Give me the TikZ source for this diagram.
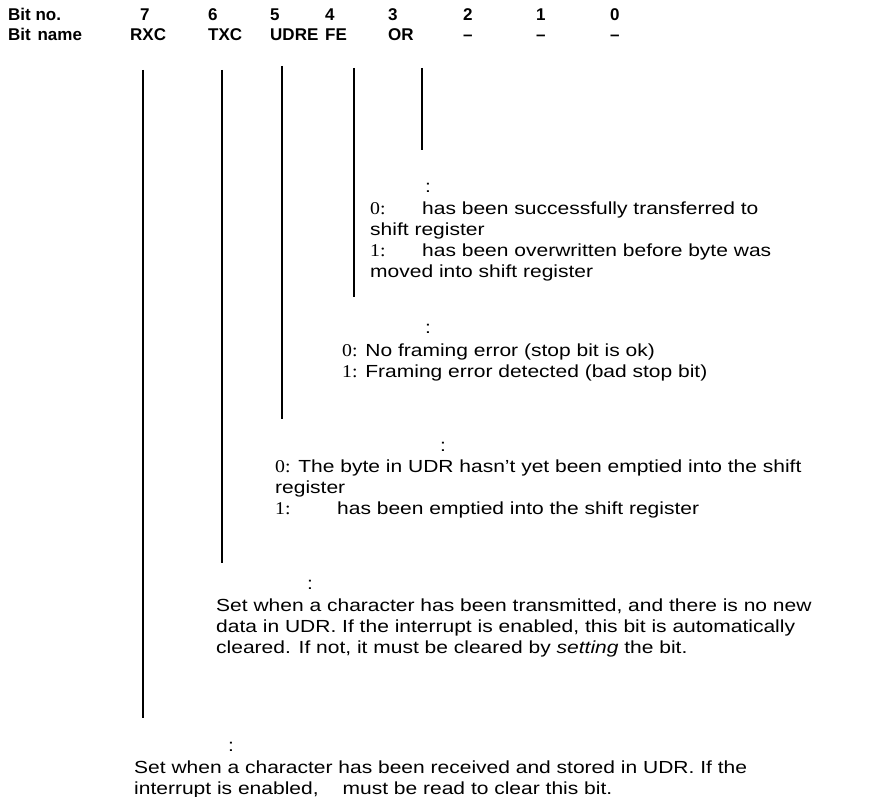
\documentclass[tikz,border=0pt]{standalone}
\usepackage{fontspec}
\setmainfont{Liberation Sans}[FakeStretch=1.2]
\newfontfamily\hdrfont{Liberation Sans}
\newfontfamily\digitfont{Liberation Serif}[FakeStretch=1.1]
\newcommand{\dg}[1]{{\digitfont\fontsize{18}{21}\selectfont #1}}
\begin{document}
\begin{tikzpicture}[x=1pt,y=-1pt,
  txt/.style={anchor=base west,inner sep=0pt,font=\fontsize{17.5}{21}\selectfont},
  hdr/.style={anchor=base west,inner sep=0pt,font=\hdrfont\bfseries\fontsize{17}{20}\selectfont},
  vline/.style={line width=1.5pt}]
\useasboundingbox (0,0) rectangle (872,797);
% header
\node[hdr] (bitno) at (8,21) {Bit no.};
\node[hdr] (n7) at (140,21) {7};
\node[hdr] (n6) at (208,21) {6};
\node[hdr] (n5) at (270,21) {5};
\node[hdr] (n4) at (325,21) {4};
\node[hdr] (n3) at (388,21) {3};
\node[hdr] (n2) at (463,21) {2};
\node[hdr] (n1) at (536,21) {1};
\node[hdr] (n0) at (610,21) {0};
\node[hdr] (bitname) at (8,41) {Bit\hspace{2pt} name};
\node[hdr] (rxc) at (130,41) {RXC};
\node[hdr] (txc) at (208,41) {TXC};
\node[hdr] (udre) at (270,41) {UDRE};
\node[hdr] (fe) at (325,41) {FE};
\node[hdr] (or) at (388,41) {OR};
\node[hdr] (d2) at (463,41) {\textendash};
\node[hdr] (d1) at (536,41) {\textendash};
\node[hdr] (d0) at (610,41) {\textendash};
% connectors
\coordinate (rxcT) at (143,70);  \coordinate (rxcB) at (143,718);
\coordinate (txcT) at (222,70);  \coordinate (txcB) at (222,563);
\coordinate (udreT) at (282,66); \coordinate (udreB) at (282,419);
\coordinate (feT) at (354,68);   \coordinate (feB) at (354,297);
\coordinate (orT) at (422,68);   \coordinate (orB) at (422,150);
\draw[vline] (rxcT) -- (rxcB);
\draw[vline] (txcT) -- (txcB);
\draw[vline] (udreT) -- (udreB);
\draw[vline] (feT) -- (feB);
\draw[vline] (orT) -- (orB);
% OR block
\node[txt] (orc) at (425,192) {:};
\node[txt] (or1) at (370,214) {\dg{0:}};
\node[txt] (or1b) at (422,214) {has been successfully transferred to};
\node[txt] (or2) at (370,235) {shift register};
\node[txt] (or3) at (370,256) {\dg{1:}};
\node[txt] (or3b) at (422,256) {has been overwritten before byte was};
\node[txt] (or4) at (370,277) {moved into shift register};
% FE block
\node[txt] (fec) at (425,333) {:};
\node[txt] (fe1) at (342,356) {\dg{0:} No framing error (stop bit is ok)};
\node[txt] (fe2) at (342,377) {\dg{1:} Framing error detected (bad stop bit)};
% UDRE block
\node[txt] (udc) at (440,451) {:};
\node[txt] (ud1) at (275,472) {\dg{0:} The byte in UDR hasn't yet been emptied into the shift};
\node[txt] (ud2) at (275,493) {register};
\node[txt] (ud3) at (275,514) {\dg{1:}};
\node[txt] (ud3b) at (337,514) {has been emptied into the shift register};
% TXC block
\node[txt] (txcc) at (307,589) {:};
\node[txt] (tx1) at (216,611) {Set when a character has been transmitted, and there is no new};
\node[txt] (tx2) at (216,632) {data in UDR. If the interrupt is enabled, this bit is automatically};
\node[txt] (tx3) at (216,653) {cleared. If not, it must be cleared by \textit{setting} the bit.};
% RXC block
\node[txt] (rxcc) at (228,751) {:};
\node[txt] (rx1) at (134,773) {Set when a character has been received and stored in UDR. If the};
\node[txt] (rx2) at (134,794) {interrupt is enabled,\hspace{24pt}must be read to clear this bit.};
\end{tikzpicture}
\end{document}
